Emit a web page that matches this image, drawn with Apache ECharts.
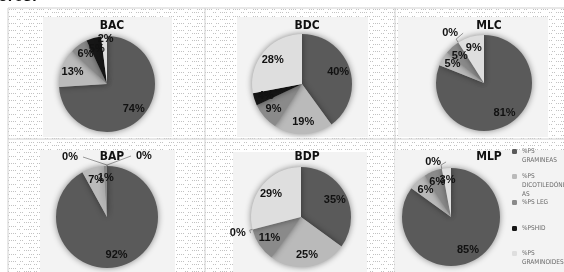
<!DOCTYPE html>
<html>
<head>
<meta charset="utf-8">
<script src="https://cdn.jsdelivr.net/npm/echarts@6/dist/echarts.min.js"></script>
<style>
  html, body { margin: 0; padding: 0; background: #fff; }
  #chart { width: 564px; height: 272px; }
</style>
</head>
<body>
<div id="chart"></div>
<script>
// categorias (orden de la leyenda)
var categories = ['%PS GRAMINEAS', '%PS DICOTILEDÓNEAS', '%PS LEG', '%PSHID', '%PS GRAMINOIDES'];
var legendLines = [['%PS', 'GRAMINEAS'], ['%PS', 'DICOTILEDÓNE', 'AS'], ['%PS LEG'], ['%PSHID'], ['%PS', 'GRAMINOIDES']];
var sites = ['BAC', 'BDC', 'MLC', 'BAP', 'BDP', 'MLP'];
var bac = [74, 13, 6, 5, 2];
var bdc = [40, 19, 9, 4, 28];
var mlc = [81, 5, 5, 0, 9];
var bap = [92, 7, 1, 0, 0];
var bdp = [35, 25, 11, 0, 29];
var mlp = [85, 6, 6, 0, 3];
var values = [bac, bdc, mlc, bap, bdp, mlp];

var colors = ['#5a5a5a', '#bababa', '#8a8a8a', '#161616', '#dedede'];
var narrow = "'Liberation Sans Narrow', 'DejaVu Sans Condensed', 'Liberation Sans', sans-serif";

// layout de cada panel
var centers = [[107, 84], [302, 84], [484, 83], [107, 217], [301, 217], [451, 217]];
var radii = [48, 50, 48, 51, 50, 49];
var titlePos = [[107, 15], [302, 15], [484, 15], [107, 146], [302, 146], [484, 146]];
var panels = [[43, 17, 129, 120], [237, 17, 131, 120], [398, 17, 150, 120],
              [40, 150, 135, 122], [233, 152, 134, 120], [395, 150, 169, 122]];
var legendIconTops = [149, 174, 200, 226, 251];
var zeroLine = [[4, 4], [4, 4], [4, 3], [1, 24], [3, 3], [4, 4]];
// ajustes finos de etiquetas (serie -> indice -> [dx, dy])
var labelShift = { 0: { 4: [1, -9] }, 2: { 3: [10, -6] }, 3: { 3: [0, -8], 4: [0, -9] }, 4: { 3: [4, 3] }, 5: { 3: [9, -3] } };

// textura de puntos del escaneo
var tex = document.createElement('canvas');
tex.width = 28; tex.height = 7;
var tc = tex.getContext('2d');
tc.fillStyle = 'rgba(120,120,120,0.45)';
[1, 3, 5, 9, 11, 13, 15, 20, 22].forEach(function (x) { tc.fillRect(x, 2, 1, 1); });
[0, 2, 6, 8, 17, 19, 24, 26].forEach(function (x) { tc.fillRect(x, 5, 1, 1); });

var chart = echarts.init(document.getElementById('chart'));

var series = [];
var titles = [];
var graphics = [];

graphics.push({ type: 'rect', shape: { x: 8, y: 9, width: 556, height: 263 }, style: { fill: { image: tex, repeat: 'repeat' } }, z: -11 });
// fondo: lineas de la tabla escaneada
[[8, 8, 564, 8], [8, 139, 564, 139], [8, 8, 8, 272], [205, 8, 205, 272], [395, 8, 395, 272]].forEach(function (l) {
  graphics.push({ type: 'line', shape: { x1: l[0], y1: l[1], x2: l[2], y2: l[3] }, style: { stroke: '#d0d0d0', lineWidth: 1 }, z: -10 });
});
panels.forEach(function (p) {
  graphics.push({ type: 'rect', shape: { x: p[0], y: p[1], width: p[2], height: p[3] }, style: { fill: '#f3f3f3' }, z: -9 });
});
graphics.push({ type: 'text', left: -2, top: -11, style: { text: 'ores:', font: 'bold 16px "Liberation Sans"', fill: '#111' } });

sites.forEach(function (site, i) {
  var cx = centers[i][0];
  var data = values[i].map(function (v, k) {
    return { name: categories[k], value: v, itemStyle: { color: colors[k] } };
  });
  titles.push({
    text: site, left: titlePos[i][0], top: titlePos[i][1], textAlign: 'center',
    textStyle: { fontFamily: narrow, fontWeight: 'bold', fontSize: 12, color: '#111' }
  });
  series.push({
    type: 'pie', center: centers[i], radius: radii[i], startAngle: 90, clockwise: true,
    silent: true, animation: false, label: { show: false }, labelLine: { show: false },
    itemStyle: { shadowBlur: 6, shadowColor: 'rgba(0,0,0,0.45)' },
    data: data
  });
  var labelData = values[i].map(function (v, k) {
    var d = { name: categories[k], value: v, itemStyle: { color: 'rgba(0,0,0,0)' } };
    if (v === 0) {
      d.label = { position: 'outside' };
      d.labelLine = { show: true, length: zeroLine[i][0], length2: zeroLine[i][1], lineStyle: { color: '#999', width: 1 } };
    }
    return d;
  });
  var zeros = values[i].filter(function (v) { return v === 0; }).length;
  var shifts = labelShift[i] || {};
  series.push({
    type: 'pie', center: centers[i], radius: [radii[i] * 0.4, radii[i]], startAngle: 90, clockwise: true,
    silent: true, animation: false, avoidLabelOverlap: false, minShowLabelAngle: 0,
    label: {
      show: true, position: 'inside', formatter: '{c}%',
      fontFamily: 'Liberation Sans', fontWeight: 'bold', fontSize: 11, color: '#111'
    },
    labelLine: { show: false },
    labelLayout: function (p) {
      var res = { hideOverlap: false };
      var pts = p.labelLinePoints;
      var dx = 0, dy = 0;
      // con dos ceros juntos, el segundo se refleja al otro lado (como Excel)
      if (zeros > 1 && p.dataIndex === values[i].length - 1 && pts) {
        dx = 2 * cx - 2 * p.labelRect.x - p.labelRect.width;
        pts = pts.map(function (pt) { return [2 * cx - pt[0], pt[1]]; });
      }
      var s = shifts[p.dataIndex];
      if (s) {
        dx += s[0];
        dy += s[1];
        if (pts) {
          pts = pts.map(function (pt, j) {
            return j === pts.length - 1 ? [pt[0] + s[0], pt[1] + s[1]] : pt;
          });
        }
      }
      res.dx = dx;
      res.dy = dy;
      if (pts) res.labelLinePoints = pts;
      return res;
    },
    data: labelData
  });
});

var legends = categories.map(function (c, k) {
  var n = legendLines[k].length;
  // lineas en blanco arriba para que la primera linea quede a la altura del icono
  var blank = [];
  for (var b = 1; b < n; b++) blank.push(' ');
  return {
    data: [{ name: c, itemStyle: { color: colors[k] } }],
    left: 512, top: legendIconTops[k] - ((2 * n - 1) * 4.5 - 2.5), orient: 'vertical',
    itemWidth: 5, itemHeight: 5, itemGap: 2, padding: 0,
    selectedMode: false,
    formatter: function () { return blank.concat(legendLines[k]).join('\n'); },
    textStyle: { fontFamily: narrow, fontSize: 6.5, color: '#6a6a6a', lineHeight: 9 }
  };
});

chart.setOption({
  backgroundColor: '#fff',
  animation: false,
  title: titles,
  legend: legends,
  graphic: graphics,
  series: series
});
</script>
</body>
</html>
